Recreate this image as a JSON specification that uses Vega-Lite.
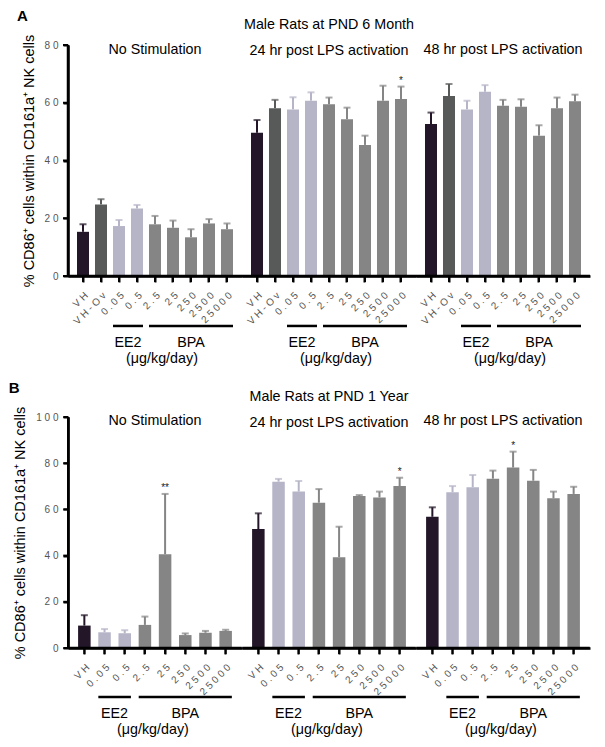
{
  "$schema": "https://vega.github.io/schema/vega-lite/v6.json",
  "background": "white",
  "padding": {"left": 8, "top": 9, "right": 5, "bottom": 5},
  "config": {
    "view": {"stroke": null},
    "font": "Liberation Sans",
    "axis": {"labelColor": "#555555", "labelFontSize": 10, "labelFont": "Liberation Sans", "titleFont": "Liberation Sans", "titleFontSize": 14.5, "titleFontWeight": "normal", "titleColor": "black", "grid": false},
    "axisY": {"labelPadding": 5, "titlePadding": 8},
    "axisX": {"labelAngle": -45, "labelAlign": "right", "labelBaseline": "top", "labelPadding": 8},
    "title": {"fontSize": 14.3, "fontWeight": "normal", "font": "Liberation Sans", "color": "black", "subtitleFontSize": 14.3, "subtitleFont": "Liberation Sans", "subtitleColor": "black", "subtitlePadding": 11},
    "text": {"font": "Liberation Sans", "color": "black"}
  },
  "datasets": {
    "a": [
      {"group": "none", "dose": "VH", "treat": "VH", "mean": 15.3, "upper": 17.9, "sig": ""},
      {"group": "none", "dose": "VH-Ov", "treat": "VH-Ov", "mean": 24.8, "upper": 26.6, "sig": ""},
      {"group": "none", "dose": "0.05", "treat": "EE2", "mean": 17.3, "upper": 19.4, "sig": ""},
      {"group": "none", "dose": "0.5", "treat": "EE2", "mean": 23.4, "upper": 24.6, "sig": ""},
      {"group": "none", "dose": "2.5", "treat": "BPA", "mean": 17.9, "upper": 20.8, "sig": ""},
      {"group": "none", "dose": "25", "treat": "BPA", "mean": 16.7, "upper": 19.2, "sig": ""},
      {"group": "none", "dose": "250", "treat": "BPA", "mean": 13.4, "upper": 16.2, "sig": ""},
      {"group": "none", "dose": "2500", "treat": "BPA", "mean": 18.2, "upper": 19.7, "sig": ""},
      {"group": "none", "dose": "25000", "treat": "BPA", "mean": 16.2, "upper": 18.2, "sig": ""},
      {"group": "24h", "dose": "VH", "treat": "VH", "mean": 49.6, "upper": 54.0, "sig": ""},
      {"group": "24h", "dose": "VH-Ov", "treat": "VH-Ov", "mean": 58.1, "upper": 61.0, "sig": ""},
      {"group": "24h", "dose": "0.05", "treat": "EE2", "mean": 57.7, "upper": 61.9, "sig": ""},
      {"group": "24h", "dose": "0.5", "treat": "EE2", "mean": 60.7, "upper": 63.6, "sig": ""},
      {"group": "24h", "dose": "2.5", "treat": "BPA", "mean": 59.5, "upper": 61.8, "sig": ""},
      {"group": "24h", "dose": "25", "treat": "BPA", "mean": 54.3, "upper": 58.3, "sig": ""},
      {"group": "24h", "dose": "250", "treat": "BPA", "mean": 45.4, "upper": 48.6, "sig": ""},
      {"group": "24h", "dose": "2500", "treat": "BPA", "mean": 60.7, "upper": 65.9, "sig": ""},
      {"group": "24h", "dose": "25000", "treat": "BPA", "mean": 61.3, "upper": 65.6, "sig": "*"},
      {"group": "48h", "dose": "VH", "treat": "VH", "mean": 52.6, "upper": 56.6, "sig": ""},
      {"group": "48h", "dose": "VH-Ov", "treat": "VH-Ov", "mean": 62.3, "upper": 66.5, "sig": ""},
      {"group": "48h", "dose": "0.05", "treat": "EE2", "mean": 57.7, "upper": 60.7, "sig": ""},
      {"group": "48h", "dose": "0.5", "treat": "EE2", "mean": 63.8, "upper": 66.1, "sig": ""},
      {"group": "48h", "dose": "2.5", "treat": "BPA", "mean": 59.0, "upper": 61.0, "sig": ""},
      {"group": "48h", "dose": "25", "treat": "BPA", "mean": 58.6, "upper": 61.2, "sig": ""},
      {"group": "48h", "dose": "250", "treat": "BPA", "mean": 48.6, "upper": 52.2, "sig": ""},
      {"group": "48h", "dose": "2500", "treat": "BPA", "mean": 58.1, "upper": 61.8, "sig": ""},
      {"group": "48h", "dose": "25000", "treat": "BPA", "mean": 60.5, "upper": 62.8, "sig": ""}
    ],
    "b": [
      {"group": "none", "dose": "VH", "treat": "VH", "mean": 9.7, "upper": 14.2, "sig": ""},
      {"group": "none", "dose": "0.05", "treat": "EE2", "mean": 6.8, "upper": 8.2, "sig": ""},
      {"group": "none", "dose": "0.5", "treat": "EE2", "mean": 6.4, "upper": 7.7, "sig": ""},
      {"group": "none", "dose": "2.5", "treat": "BPA", "mean": 10.0, "upper": 13.6, "sig": ""},
      {"group": "none", "dose": "25", "treat": "BPA", "mean": 40.6, "upper": 66.7, "sig": "**"},
      {"group": "none", "dose": "250", "treat": "BPA", "mean": 5.6, "upper": 6.3, "sig": ""},
      {"group": "none", "dose": "2500", "treat": "BPA", "mean": 6.6, "upper": 7.4, "sig": ""},
      {"group": "none", "dose": "25000", "treat": "BPA", "mean": 7.4, "upper": 7.9, "sig": ""},
      {"group": "24h", "dose": "VH", "treat": "VH", "mean": 51.5, "upper": 58.3, "sig": ""},
      {"group": "24h", "dose": "0.05", "treat": "EE2", "mean": 72.0, "upper": 73.2, "sig": ""},
      {"group": "24h", "dose": "0.5", "treat": "EE2", "mean": 67.7, "upper": 72.3, "sig": ""},
      {"group": "24h", "dose": "2.5", "treat": "BPA", "mean": 62.9, "upper": 68.8, "sig": ""},
      {"group": "24h", "dose": "25", "treat": "BPA", "mean": 39.3, "upper": 52.5, "sig": ""},
      {"group": "24h", "dose": "250", "treat": "BPA", "mean": 65.8, "upper": 66.2, "sig": ""},
      {"group": "24h", "dose": "2500", "treat": "BPA", "mean": 65.2, "upper": 67.7, "sig": ""},
      {"group": "24h", "dose": "25000", "treat": "BPA", "mean": 70.1, "upper": 73.7, "sig": "*"},
      {"group": "48h", "dose": "VH", "treat": "VH", "mean": 56.8, "upper": 60.9, "sig": ""},
      {"group": "48h", "dose": "0.05", "treat": "EE2", "mean": 67.4, "upper": 70.1, "sig": ""},
      {"group": "48h", "dose": "0.5", "treat": "EE2", "mean": 69.6, "upper": 74.9, "sig": ""},
      {"group": "48h", "dose": "2.5", "treat": "BPA", "mean": 73.3, "upper": 76.8, "sig": ""},
      {"group": "48h", "dose": "25", "treat": "BPA", "mean": 78.1, "upper": 85.0, "sig": "*"},
      {"group": "48h", "dose": "250", "treat": "BPA", "mean": 72.4, "upper": 77.1, "sig": ""},
      {"group": "48h", "dose": "2500", "treat": "BPA", "mean": 64.8, "upper": 67.7, "sig": ""},
      {"group": "48h", "dose": "25000", "treat": "BPA", "mean": 66.7, "upper": 69.8, "sig": ""}
    ],
    "br": [
      {"label": "EE2", "from": "0.05", "to": "0.5"},
      {"label": "BPA", "from": "2.5", "to": "25000"}
    ],
    "yta": [{"v": 0}, {"v": 20}, {"v": 40}, {"v": 60}, {"v": 80}],
    "ytb": [{"v": 0}, {"v": 20}, {"v": 40}, {"v": 60}, {"v": 80}, {"v": 100}]
  },
  "concat": [
    {
      "title": {"text": "A", "anchor": "start", "fontSize": 15, "fontWeight": "bold", "offset": -6, "dx": -4},
      "spacing": 0,
      "bounds": "flush",
      "hconcat": [
        {
          "width": 174, "height": 231,
          "title": {"text": "No Stimulation", "offset": -23, "frame": "group"},
          "resolve": {"axis": {"x": "independent", "y": "independent"}},
          "layer": [
            {"data": {"name": "a"}, "transform": [{"filter": "datum.group === 'none'"}], "mark": {"type": "bar"},
             "encoding": {
               "x": {"field": "dose", "type": "nominal", "sort": null, "scale": {"domain": ["VH", "VH-Ov", "0.05", "0.5", "2.5", "25", "250", "2500", "25000"], "paddingInner": 0.333, "paddingOuter": 0.5}, "axis": {"title": null, "domain": true, "ticks": true, "domainColor": "#000000", "domainWidth": 2.5, "tickColor": "#000000", "tickWidth": 2, "tickSize": 6, "labelExpr": "join(split(datum.label, ''), ' ')"}},
               "y": {"field": "mean", "type": "quantitative", "scale": {"domain": [0, 80], "nice": false}, "axis": {"title": "% CD86⁺ cells within CD161a⁺ NK cells", "domain": true, "ticks": true, "domainColor": "#000000", "domainWidth": 2.5, "tickColor": "#000000", "tickWidth": 2, "tickSize": 5, "values": [0, 20, 40, 60, 80], "labelExpr": "join(split(datum.label, ''), ' ')"}},
               "color": {"field": "treat", "type": "nominal", "scale": {"domain": ["VH", "VH-Ov", "EE2", "BPA"], "range": ["#221628", "#585a5a", "#b6b5c8", "#858585"]}, "legend": null}}},
            {"data": {"name": "a"}, "transform": [{"filter": "datum.group === 'none'"}], "mark": {"type": "rule", "strokeWidth": 2},
             "encoding": {"x": {"field": "dose", "type": "nominal", "axis": null}, "y": {"field": "mean", "type": "quantitative", "axis": null}, "y2": {"field": "upper"}, "color": {"field": "treat", "type": "nominal", "legend": null}}},
            {"data": {"name": "a"}, "transform": [{"filter": "datum.group === 'none'"}], "mark": {"type": "tick", "thickness": 2, "size": 7},
             "encoding": {"x": {"field": "dose", "type": "nominal", "axis": null}, "y": {"field": "upper", "type": "quantitative", "axis": null}, "color": {"field": "treat", "type": "nominal", "legend": null}}},
            {"data": {"name": "a"}, "transform": [{"filter": "datum.group === 'none'"}], "mark": {"type": "rule", "strokeWidth": 2, "color": "black"},
             "encoding": {"x": {"field": "dose", "type": "nominal", "axis": null}, "y": {"datum": 0, "type": "quantitative", "axis": null}, "y2": {"datum": -2.08}}},
            {"data": {"name": "br"}, "transform": [{"filter": "datum.label === 'EE2'"}], "mark": {"type": "rule", "strokeWidth": 2.5, "color": "black", "xOffset": -15, "x2Offset": 15},
             "encoding": {"x": {"datum": "VH", "type": "nominal", "axis": null}, "x2": {"datum": "25000"}, "y": {"datum": 0, "type": "quantitative", "axis": null}}},
            {"data": {"name": "br"}, "transform": [{"filter": "datum.label === 'EE2'"}], "mark": {"type": "rule", "strokeWidth": 2.5, "color": "black", "xOffset": -15},
             "encoding": {"x": {"datum": "VH", "type": "nominal", "axis": null}, "y": {"datum": 0, "type": "quantitative", "axis": null}, "y2": {"datum": 80}}},
            {"data": {"name": "yta"}, "mark": {"type": "rule", "strokeWidth": 2, "color": "black", "xOffset": -15, "x2Offset": -20},
             "encoding": {"x": {"datum": "VH", "type": "nominal", "axis": null}, "x2": {"datum": "VH"}, "y": {"field": "v", "type": "quantitative", "axis": null}}},
            {"data": {"name": "br"}, "mark": {"type": "rule", "strokeWidth": 2.5, "color": "black", "xOffset": -6, "x2Offset": 6},
             "encoding": {"x": {"field": "from", "type": "nominal", "axis": null}, "x2": {"field": "to"}, "y": {"datum": -17.3, "type": "quantitative", "axis": null}}},
            {"data": {"name": "br"}, "transform": [{"filter": "datum.label === 'EE2'"}], "mark": {"type": "text", "fontSize": 14.3, "dx": 9, "baseline": "middle", "color": "black"},
             "encoding": {"x": {"field": "from", "type": "nominal", "axis": null}, "y": {"datum": -23.2, "type": "quantitative", "axis": null}, "text": {"field": "label"}}},
            {"data": {"name": "br"}, "transform": [{"filter": "datum.label === 'BPA'"}], "mark": {"type": "text", "fontSize": 14.3, "baseline": "middle", "color": "black"},
             "encoding": {"x": {"datum": "250", "type": "nominal", "axis": null}, "y": {"datum": -23.2, "type": "quantitative", "axis": null}, "text": {"field": "label"}}},
            {"data": {"name": "br"}, "transform": [{"filter": "datum.label === 'EE2'"}], "mark": {"type": "text", "fontSize": 14.3, "dx": 7, "baseline": "middle", "color": "black"},
             "encoding": {"x": {"datum": "2.5", "type": "nominal", "axis": null}, "y": {"datum": -28.6, "type": "quantitative", "axis": null}, "text": {"value": "(μg/kg/day)"}}}
          ]
        },
        {
          "width": 174, "height": 231,
          "title": {"text": "Male Rats at PND 6 Month", "subtitle": "24 hr post LPS activation", "offset": -13, "frame": "group"},
          "resolve": {"axis": {"x": "independent", "y": "independent"}},
          "layer": [
            {"data": {"name": "a"}, "transform": [{"filter": "datum.group === '24h'"}], "mark": {"type": "bar"},
             "encoding": {
               "x": {"field": "dose", "type": "nominal", "sort": null, "scale": {"domain": ["VH", "VH-Ov", "0.05", "0.5", "2.5", "25", "250", "2500", "25000"], "paddingInner": 0.333, "paddingOuter": 0.5}, "axis": {"title": null, "domain": true, "ticks": true, "domainColor": "#000000", "domainWidth": 2.5, "tickColor": "#000000", "tickWidth": 2, "tickSize": 6, "labelExpr": "join(split(datum.label, ''), ' ')"}},
               "y": {"field": "mean", "type": "quantitative", "scale": {"domain": [0, 80], "nice": false}, "axis": null},
               "color": {"field": "treat", "type": "nominal", "scale": {"domain": ["VH", "VH-Ov", "EE2", "BPA"], "range": ["#221628", "#585a5a", "#b6b5c8", "#858585"]}, "legend": null}}},
            {"data": {"name": "a"}, "transform": [{"filter": "datum.group === '24h'"}], "mark": {"type": "rule", "strokeWidth": 2},
             "encoding": {"x": {"field": "dose", "type": "nominal", "axis": null}, "y": {"field": "mean", "type": "quantitative", "axis": null}, "y2": {"field": "upper"}, "color": {"field": "treat", "type": "nominal", "legend": null}}},
            {"data": {"name": "a"}, "transform": [{"filter": "datum.group === '24h'"}], "mark": {"type": "tick", "thickness": 2, "size": 7},
             "encoding": {"x": {"field": "dose", "type": "nominal", "axis": null}, "y": {"field": "upper", "type": "quantitative", "axis": null}, "color": {"field": "treat", "type": "nominal", "legend": null}}},
            {"data": {"name": "a"}, "transform": [{"filter": "datum.group === '24h'"}], "mark": {"type": "text", "fontSize": 10, "baseline": "bottom", "dy": -1, "color": "#222222"},
             "encoding": {"x": {"field": "dose", "type": "nominal", "axis": null}, "y": {"field": "upper", "type": "quantitative", "axis": null}, "text": {"field": "sig"}}},
            {"data": {"name": "a"}, "transform": [{"filter": "datum.group === '24h'"}], "mark": {"type": "rule", "strokeWidth": 2, "color": "black"},
             "encoding": {"x": {"field": "dose", "type": "nominal", "axis": null}, "y": {"datum": 0, "type": "quantitative", "axis": null}, "y2": {"datum": -2.08}}},
            {"data": {"name": "br"}, "transform": [{"filter": "datum.label === 'EE2'"}], "mark": {"type": "rule", "strokeWidth": 2.5, "color": "black", "xOffset": -15, "x2Offset": 15},
             "encoding": {"x": {"datum": "VH", "type": "nominal", "axis": null}, "x2": {"datum": "25000"}, "y": {"datum": 0, "type": "quantitative", "axis": null}}},
            {"data": {"name": "br"}, "mark": {"type": "rule", "strokeWidth": 2.5, "color": "black", "xOffset": -6, "x2Offset": 6},
             "encoding": {"x": {"field": "from", "type": "nominal", "axis": null}, "x2": {"field": "to"}, "y": {"datum": -17.3, "type": "quantitative", "axis": null}}},
            {"data": {"name": "br"}, "transform": [{"filter": "datum.label === 'EE2'"}], "mark": {"type": "text", "fontSize": 14.3, "dx": 9, "baseline": "middle", "color": "black"},
             "encoding": {"x": {"field": "from", "type": "nominal", "axis": null}, "y": {"datum": -23.2, "type": "quantitative", "axis": null}, "text": {"field": "label"}}},
            {"data": {"name": "br"}, "transform": [{"filter": "datum.label === 'BPA'"}], "mark": {"type": "text", "fontSize": 14.3, "baseline": "middle", "color": "black"},
             "encoding": {"x": {"datum": "250", "type": "nominal", "axis": null}, "y": {"datum": -23.2, "type": "quantitative", "axis": null}, "text": {"field": "label"}}},
            {"data": {"name": "br"}, "transform": [{"filter": "datum.label === 'EE2'"}], "mark": {"type": "text", "fontSize": 14.3, "dx": 7, "baseline": "middle", "color": "black"},
             "encoding": {"x": {"datum": "2.5", "type": "nominal", "axis": null}, "y": {"datum": -28.6, "type": "quantitative", "axis": null}, "text": {"value": "(μg/kg/day)"}}}
          ]
        },
        {
          "width": 174, "height": 231,
          "title": {"text": "48 hr post LPS activation", "offset": -12, "frame": "group"},
          "resolve": {"axis": {"x": "independent", "y": "independent"}},
          "layer": [
            {"data": {"name": "a"}, "transform": [{"filter": "datum.group === '48h'"}], "mark": {"type": "bar"},
             "encoding": {
               "x": {"field": "dose", "type": "nominal", "sort": null, "scale": {"domain": ["VH", "VH-Ov", "0.05", "0.5", "2.5", "25", "250", "2500", "25000"], "paddingInner": 0.333, "paddingOuter": 0.5}, "axis": {"title": null, "domain": true, "ticks": true, "domainColor": "#000000", "domainWidth": 2.5, "tickColor": "#000000", "tickWidth": 2, "tickSize": 6, "labelExpr": "join(split(datum.label, ''), ' ')"}},
               "y": {"field": "mean", "type": "quantitative", "scale": {"domain": [0, 80], "nice": false}, "axis": null},
               "color": {"field": "treat", "type": "nominal", "scale": {"domain": ["VH", "VH-Ov", "EE2", "BPA"], "range": ["#221628", "#585a5a", "#b6b5c8", "#858585"]}, "legend": null}}},
            {"data": {"name": "a"}, "transform": [{"filter": "datum.group === '48h'"}], "mark": {"type": "rule", "strokeWidth": 2},
             "encoding": {"x": {"field": "dose", "type": "nominal", "axis": null}, "y": {"field": "mean", "type": "quantitative", "axis": null}, "y2": {"field": "upper"}, "color": {"field": "treat", "type": "nominal", "legend": null}}},
            {"data": {"name": "a"}, "transform": [{"filter": "datum.group === '48h'"}], "mark": {"type": "tick", "thickness": 2, "size": 7},
             "encoding": {"x": {"field": "dose", "type": "nominal", "axis": null}, "y": {"field": "upper", "type": "quantitative", "axis": null}, "color": {"field": "treat", "type": "nominal", "legend": null}}},
            {"data": {"name": "a"}, "transform": [{"filter": "datum.group === '48h'"}], "mark": {"type": "rule", "strokeWidth": 2, "color": "black"},
             "encoding": {"x": {"field": "dose", "type": "nominal", "axis": null}, "y": {"datum": 0, "type": "quantitative", "axis": null}, "y2": {"datum": -2.08}}},
            {"data": {"name": "br"}, "transform": [{"filter": "datum.label === 'EE2'"}], "mark": {"type": "rule", "strokeWidth": 2.5, "color": "black", "xOffset": -15, "x2Offset": 15},
             "encoding": {"x": {"datum": "VH", "type": "nominal", "axis": null}, "x2": {"datum": "25000"}, "y": {"datum": 0, "type": "quantitative", "axis": null}}},
            {"data": {"name": "br"}, "mark": {"type": "rule", "strokeWidth": 2.5, "color": "black", "xOffset": -6, "x2Offset": 6},
             "encoding": {"x": {"field": "from", "type": "nominal", "axis": null}, "x2": {"field": "to"}, "y": {"datum": -17.3, "type": "quantitative", "axis": null}}},
            {"data": {"name": "br"}, "transform": [{"filter": "datum.label === 'EE2'"}], "mark": {"type": "text", "fontSize": 14.3, "dx": 9, "baseline": "middle", "color": "black"},
             "encoding": {"x": {"field": "from", "type": "nominal", "axis": null}, "y": {"datum": -23.2, "type": "quantitative", "axis": null}, "text": {"field": "label"}}},
            {"data": {"name": "br"}, "transform": [{"filter": "datum.label === 'BPA'"}], "mark": {"type": "text", "fontSize": 14.3, "baseline": "middle", "color": "black"},
             "encoding": {"x": {"datum": "250", "type": "nominal", "axis": null}, "y": {"datum": -23.2, "type": "quantitative", "axis": null}, "text": {"field": "label"}}},
            {"data": {"name": "br"}, "transform": [{"filter": "datum.label === 'EE2'"}], "mark": {"type": "text", "fontSize": 14.3, "dx": 7, "baseline": "middle", "color": "black"},
             "encoding": {"x": {"datum": "2.5", "type": "nominal", "axis": null}, "y": {"datum": -28.6, "type": "quantitative", "axis": null}, "text": {"value": "(μg/kg/day)"}}}
          ]
        }
      ]
    },
    {
      "title": {"text": "B", "anchor": "start", "fontSize": 15, "fontWeight": "bold", "offset": -6, "dx": -4},
      "spacing": 0,
      "bounds": "flush",
      "hconcat": [
        {
          "width": 174, "height": 231,
          "title": {"text": "No Stimulation", "offset": -22, "frame": "group"},
          "resolve": {"axis": {"x": "independent", "y": "independent"}},
          "layer": [
            {"data": {"name": "b"}, "transform": [{"filter": "datum.group === 'none'"}], "mark": {"type": "bar"},
             "encoding": {
               "x": {"field": "dose", "type": "nominal", "sort": null, "scale": {"domain": ["VH", "0.05", "0.5", "2.5", "25", "250", "2500", "25000"], "paddingInner": 0.38, "paddingOuter": 0.5}, "axis": {"title": null, "domain": true, "ticks": true, "domainColor": "#000000", "domainWidth": 2.5, "tickColor": "#000000", "tickWidth": 2, "tickSize": 6, "labelExpr": "join(split(datum.label, ''), ' ')"}},
               "y": {"field": "mean", "type": "quantitative", "scale": {"domain": [0, 100], "nice": false}, "axis": {"title": "% CD86⁺ cells within CD161a⁺ NK cells", "domain": true, "ticks": true, "domainColor": "#000000", "domainWidth": 2.5, "tickColor": "#000000", "tickWidth": 2, "tickSize": 5, "values": [0, 20, 40, 60, 80, 100], "labelExpr": "join(split(datum.label, ''), ' ')"}},
               "color": {"field": "treat", "type": "nominal", "scale": {"domain": ["VH", "VH-Ov", "EE2", "BPA"], "range": ["#221628", "#585a5a", "#b6b5c8", "#858585"]}, "legend": null}}},
            {"data": {"name": "b"}, "transform": [{"filter": "datum.group === 'none'"}], "mark": {"type": "rule", "strokeWidth": 2},
             "encoding": {"x": {"field": "dose", "type": "nominal", "axis": null}, "y": {"field": "mean", "type": "quantitative", "axis": null}, "y2": {"field": "upper"}, "color": {"field": "treat", "type": "nominal", "legend": null}}},
            {"data": {"name": "b"}, "transform": [{"filter": "datum.group === 'none'"}], "mark": {"type": "tick", "thickness": 2, "size": 7},
             "encoding": {"x": {"field": "dose", "type": "nominal", "axis": null}, "y": {"field": "upper", "type": "quantitative", "axis": null}, "color": {"field": "treat", "type": "nominal", "legend": null}}},
            {"data": {"name": "b"}, "transform": [{"filter": "datum.group === 'none'"}], "mark": {"type": "text", "fontSize": 10, "baseline": "bottom", "dy": -1, "color": "#222222"},
             "encoding": {"x": {"field": "dose", "type": "nominal", "axis": null}, "y": {"field": "upper", "type": "quantitative", "axis": null}, "text": {"field": "sig"}}},
            {"data": {"name": "b"}, "transform": [{"filter": "datum.group === 'none'"}], "mark": {"type": "rule", "strokeWidth": 2, "color": "black"},
             "encoding": {"x": {"field": "dose", "type": "nominal", "axis": null}, "y": {"datum": 0, "type": "quantitative", "axis": null}, "y2": {"datum": -2.6}}},
            {"data": {"name": "br"}, "transform": [{"filter": "datum.label === 'EE2'"}], "mark": {"type": "rule", "strokeWidth": 2.5, "color": "black", "xOffset": -16.09, "x2Offset": 16.09},
             "encoding": {"x": {"datum": "VH", "type": "nominal", "axis": null}, "x2": {"datum": "25000"}, "y": {"datum": 0, "type": "quantitative", "axis": null}}},
            {"data": {"name": "br"}, "transform": [{"filter": "datum.label === 'EE2'"}], "mark": {"type": "rule", "strokeWidth": 2.5, "color": "black", "xOffset": -16.09},
             "encoding": {"x": {"datum": "VH", "type": "nominal", "axis": null}, "y": {"datum": 0, "type": "quantitative", "axis": null}, "y2": {"datum": 100}}},
            {"data": {"name": "ytb"}, "mark": {"type": "rule", "strokeWidth": 2, "color": "black", "xOffset": -16.09, "x2Offset": -21.09},
             "encoding": {"x": {"datum": "VH", "type": "nominal", "axis": null}, "x2": {"datum": "VH"}, "y": {"field": "v", "type": "quantitative", "axis": null}}},
            {"data": {"name": "br"}, "mark": {"type": "rule", "strokeWidth": 2.5, "color": "black", "xOffset": -6.2, "x2Offset": 6.2},
             "encoding": {"x": {"field": "from", "type": "nominal", "axis": null}, "x2": {"field": "to"}, "y": {"datum": -21.2, "type": "quantitative", "axis": null}}},
            {"data": {"name": "br"}, "transform": [{"filter": "datum.label === 'EE2'"}], "mark": {"type": "text", "fontSize": 14.3, "dx": 10, "baseline": "middle", "color": "black"},
             "encoding": {"x": {"field": "from", "type": "nominal", "axis": null}, "y": {"datum": -28.6, "type": "quantitative", "axis": null}, "text": {"field": "label"}}},
            {"data": {"name": "br"}, "transform": [{"filter": "datum.label === 'BPA'"}], "mark": {"type": "text", "fontSize": 14.3, "baseline": "middle", "color": "black"},
             "encoding": {"x": {"datum": "250", "type": "nominal", "axis": null}, "y": {"datum": -28.6, "type": "quantitative", "axis": null}, "text": {"field": "label"}}},
            {"data": {"name": "br"}, "transform": [{"filter": "datum.label === 'EE2'"}], "mark": {"type": "text", "fontSize": 14.3, "dx": 8, "baseline": "middle", "color": "black"},
             "encoding": {"x": {"datum": "2.5", "type": "nominal", "axis": null}, "y": {"datum": -35.5, "type": "quantitative", "axis": null}, "text": {"value": "(μg/kg/day)"}}}
          ]
        },
        {
          "width": 174, "height": 231,
          "title": {"text": "Male Rats at PND 1 Year", "subtitle": "24 hr post LPS activation", "offset": -13, "frame": "group"},
          "resolve": {"axis": {"x": "independent", "y": "independent"}},
          "layer": [
            {"data": {"name": "b"}, "transform": [{"filter": "datum.group === '24h'"}], "mark": {"type": "bar"},
             "encoding": {
               "x": {"field": "dose", "type": "nominal", "sort": null, "scale": {"domain": ["VH", "0.05", "0.5", "2.5", "25", "250", "2500", "25000"], "paddingInner": 0.38, "paddingOuter": 0.5}, "axis": {"title": null, "domain": true, "ticks": true, "domainColor": "#000000", "domainWidth": 2.5, "tickColor": "#000000", "tickWidth": 2, "tickSize": 6, "labelExpr": "join(split(datum.label, ''), ' ')"}},
               "y": {"field": "mean", "type": "quantitative", "scale": {"domain": [0, 100], "nice": false}, "axis": null},
               "color": {"field": "treat", "type": "nominal", "scale": {"domain": ["VH", "VH-Ov", "EE2", "BPA"], "range": ["#221628", "#585a5a", "#b6b5c8", "#858585"]}, "legend": null}}},
            {"data": {"name": "b"}, "transform": [{"filter": "datum.group === '24h'"}], "mark": {"type": "rule", "strokeWidth": 2},
             "encoding": {"x": {"field": "dose", "type": "nominal", "axis": null}, "y": {"field": "mean", "type": "quantitative", "axis": null}, "y2": {"field": "upper"}, "color": {"field": "treat", "type": "nominal", "legend": null}}},
            {"data": {"name": "b"}, "transform": [{"filter": "datum.group === '24h'"}], "mark": {"type": "tick", "thickness": 2, "size": 7},
             "encoding": {"x": {"field": "dose", "type": "nominal", "axis": null}, "y": {"field": "upper", "type": "quantitative", "axis": null}, "color": {"field": "treat", "type": "nominal", "legend": null}}},
            {"data": {"name": "b"}, "transform": [{"filter": "datum.group === '24h'"}], "mark": {"type": "text", "fontSize": 10, "baseline": "bottom", "dy": -1, "color": "#222222"},
             "encoding": {"x": {"field": "dose", "type": "nominal", "axis": null}, "y": {"field": "upper", "type": "quantitative", "axis": null}, "text": {"field": "sig"}}},
            {"data": {"name": "b"}, "transform": [{"filter": "datum.group === '24h'"}], "mark": {"type": "rule", "strokeWidth": 2, "color": "black"},
             "encoding": {"x": {"field": "dose", "type": "nominal", "axis": null}, "y": {"datum": 0, "type": "quantitative", "axis": null}, "y2": {"datum": -2.6}}},
            {"data": {"name": "br"}, "transform": [{"filter": "datum.label === 'EE2'"}], "mark": {"type": "rule", "strokeWidth": 2.5, "color": "black", "xOffset": -16.09, "x2Offset": 16.09},
             "encoding": {"x": {"datum": "VH", "type": "nominal", "axis": null}, "x2": {"datum": "25000"}, "y": {"datum": 0, "type": "quantitative", "axis": null}}},
            {"data": {"name": "br"}, "mark": {"type": "rule", "strokeWidth": 2.5, "color": "black", "xOffset": -6.2, "x2Offset": 6.2},
             "encoding": {"x": {"field": "from", "type": "nominal", "axis": null}, "x2": {"field": "to"}, "y": {"datum": -21.2, "type": "quantitative", "axis": null}}},
            {"data": {"name": "br"}, "transform": [{"filter": "datum.label === 'EE2'"}], "mark": {"type": "text", "fontSize": 14.3, "dx": 10, "baseline": "middle", "color": "black"},
             "encoding": {"x": {"field": "from", "type": "nominal", "axis": null}, "y": {"datum": -28.6, "type": "quantitative", "axis": null}, "text": {"field": "label"}}},
            {"data": {"name": "br"}, "transform": [{"filter": "datum.label === 'BPA'"}], "mark": {"type": "text", "fontSize": 14.3, "baseline": "middle", "color": "black"},
             "encoding": {"x": {"datum": "250", "type": "nominal", "axis": null}, "y": {"datum": -28.6, "type": "quantitative", "axis": null}, "text": {"field": "label"}}},
            {"data": {"name": "br"}, "transform": [{"filter": "datum.label === 'EE2'"}], "mark": {"type": "text", "fontSize": 14.3, "dx": 8, "baseline": "middle", "color": "black"},
             "encoding": {"x": {"datum": "2.5", "type": "nominal", "axis": null}, "y": {"datum": -35.5, "type": "quantitative", "axis": null}, "text": {"value": "(μg/kg/day)"}}}
          ]
        },
        {
          "width": 174, "height": 231,
          "title": {"text": "48 hr post LPS activation", "offset": -11, "frame": "group"},
          "resolve": {"axis": {"x": "independent", "y": "independent"}},
          "layer": [
            {"data": {"name": "b"}, "transform": [{"filter": "datum.group === '48h'"}], "mark": {"type": "bar"},
             "encoding": {
               "x": {"field": "dose", "type": "nominal", "sort": null, "scale": {"domain": ["VH", "0.05", "0.5", "2.5", "25", "250", "2500", "25000"], "paddingInner": 0.38, "paddingOuter": 0.5}, "axis": {"title": null, "domain": true, "ticks": true, "domainColor": "#000000", "domainWidth": 2.5, "tickColor": "#000000", "tickWidth": 2, "tickSize": 6, "labelExpr": "join(split(datum.label, ''), ' ')"}},
               "y": {"field": "mean", "type": "quantitative", "scale": {"domain": [0, 100], "nice": false}, "axis": null},
               "color": {"field": "treat", "type": "nominal", "scale": {"domain": ["VH", "VH-Ov", "EE2", "BPA"], "range": ["#221628", "#585a5a", "#b6b5c8", "#858585"]}, "legend": null}}},
            {"data": {"name": "b"}, "transform": [{"filter": "datum.group === '48h'"}], "mark": {"type": "rule", "strokeWidth": 2},
             "encoding": {"x": {"field": "dose", "type": "nominal", "axis": null}, "y": {"field": "mean", "type": "quantitative", "axis": null}, "y2": {"field": "upper"}, "color": {"field": "treat", "type": "nominal", "legend": null}}},
            {"data": {"name": "b"}, "transform": [{"filter": "datum.group === '48h'"}], "mark": {"type": "tick", "thickness": 2, "size": 7},
             "encoding": {"x": {"field": "dose", "type": "nominal", "axis": null}, "y": {"field": "upper", "type": "quantitative", "axis": null}, "color": {"field": "treat", "type": "nominal", "legend": null}}},
            {"data": {"name": "b"}, "transform": [{"filter": "datum.group === '48h'"}], "mark": {"type": "text", "fontSize": 10, "baseline": "bottom", "dy": -1, "color": "#222222"},
             "encoding": {"x": {"field": "dose", "type": "nominal", "axis": null}, "y": {"field": "upper", "type": "quantitative", "axis": null}, "text": {"field": "sig"}}},
            {"data": {"name": "b"}, "transform": [{"filter": "datum.group === '48h'"}], "mark": {"type": "rule", "strokeWidth": 2, "color": "black"},
             "encoding": {"x": {"field": "dose", "type": "nominal", "axis": null}, "y": {"datum": 0, "type": "quantitative", "axis": null}, "y2": {"datum": -2.6}}},
            {"data": {"name": "br"}, "transform": [{"filter": "datum.label === 'EE2'"}], "mark": {"type": "rule", "strokeWidth": 2.5, "color": "black", "xOffset": -16.09, "x2Offset": 16.09},
             "encoding": {"x": {"datum": "VH", "type": "nominal", "axis": null}, "x2": {"datum": "25000"}, "y": {"datum": 0, "type": "quantitative", "axis": null}}},
            {"data": {"name": "br"}, "mark": {"type": "rule", "strokeWidth": 2.5, "color": "black", "xOffset": -6.2, "x2Offset": 6.2},
             "encoding": {"x": {"field": "from", "type": "nominal", "axis": null}, "x2": {"field": "to"}, "y": {"datum": -21.2, "type": "quantitative", "axis": null}}},
            {"data": {"name": "br"}, "transform": [{"filter": "datum.label === 'EE2'"}], "mark": {"type": "text", "fontSize": 14.3, "dx": 10, "baseline": "middle", "color": "black"},
             "encoding": {"x": {"field": "from", "type": "nominal", "axis": null}, "y": {"datum": -28.6, "type": "quantitative", "axis": null}, "text": {"field": "label"}}},
            {"data": {"name": "br"}, "transform": [{"filter": "datum.label === 'BPA'"}], "mark": {"type": "text", "fontSize": 14.3, "baseline": "middle", "color": "black"},
             "encoding": {"x": {"datum": "250", "type": "nominal", "axis": null}, "y": {"datum": -28.6, "type": "quantitative", "axis": null}, "text": {"field": "label"}}},
            {"data": {"name": "br"}, "transform": [{"filter": "datum.label === 'EE2'"}], "mark": {"type": "text", "fontSize": 14.3, "dx": 8, "baseline": "middle", "color": "black"},
             "encoding": {"x": {"datum": "2.5", "type": "nominal", "axis": null}, "y": {"datum": -35.5, "type": "quantitative", "axis": null}, "text": {"value": "(μg/kg/day)"}}}
          ]
        }
      ]
    }
  ],
  "columns": 1,
  "align": "none",
  "spacing": 15
}
